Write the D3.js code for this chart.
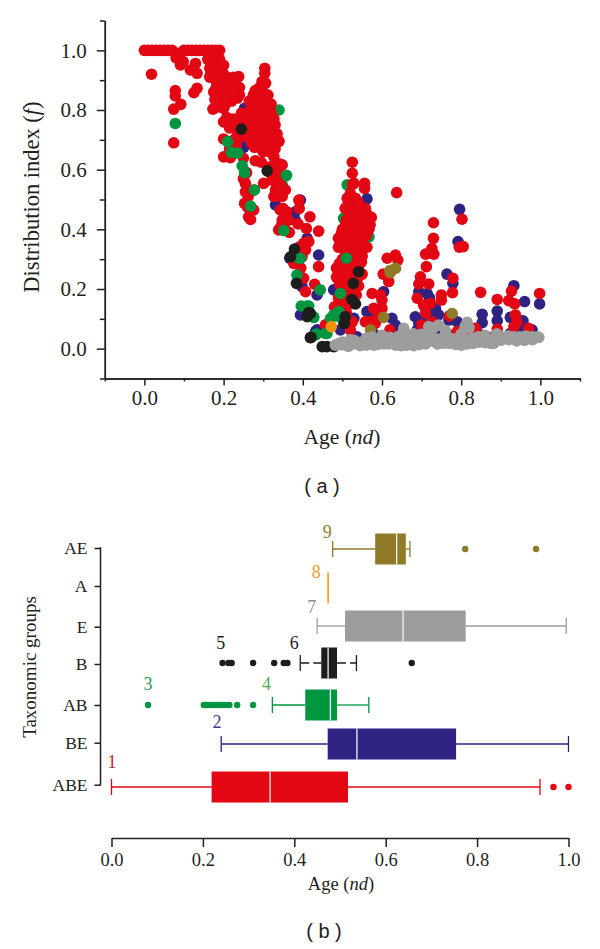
<!DOCTYPE html>
<html><head><meta charset="utf-8">
<script src="https://cdn.jsdelivr.net/npm/d3@7/dist/d3.min.js"></script>
<style>html,body{margin:0;padding:0;background:#fff}svg{display:block}text{font-family:"Liberation Serif",serif;fill:#231f20}</style>
</head><body><svg id="c" width="600" height="949"></svg>
<script>
// ---------- panel (a): [age, f] points per taxonomic group ----------
const pointsBlue = [[.796,.467],[.792,.359],[.44,.314],[.562,.502],[.545,.478],[.764,.25],[.779,.219],[.933,.211],[.96,.158],[.998,.15],[.853,.115],[.853,.087],[.891,.126],[.891,.094],[.924,.105],[.956,.093],[.949,.068],[.979,.063],[.604,.191],[.562,.124],[.575,.113],[.625,.102],[.634,.079],[.693,.191],[.714,.185],[.684,.107],[.709,.107],[.693,.085],[.735,.135],[.743,.113],[.769,.096],[.79,.09],[.735,.059],[.689,.063],[.764,.051],[.84,.057],[.524,.163],[.529,.102],[.503,.09],[.478,.197],[.436,.18],[.625,.057],[.579,.05],[.697,.042],[.655,.051],[.924,.051],[.537,.04],[.495,.063],[.436,.063],[.253,.806],[.251,.675],[.263,.694],[.331,.482],[.381,.459],[.394,.498],[.411,.37],[.367,.303],[.394,.113],[.432,.057],[.398,.208],[.381,.431],[.72,.17],[.73,.12],[.7,.09],[.67,.04],[.865,.04],[.89,.05],[.95,.045],[.98,.05]];
const pointsRed = [[0,1],[.01,1],[.02,1],[.03,1],[.04,1],[.05,1],[.06,1],[.07,1],[.085,.99],[.1,1],[.11,1],[.12,1],[.13,1],[.14,1],[.15,1],[.16,1],[.17,1],[.18,1],[.19,1],
[.018,.92],[.078,.865],[.078,.847],[.092,.819],[.074,.803],[.074,.69],[.091,.951],[.098,.962],[.116,.934],[.129,.956],[.133,.923],[.133,.873],[.125,.858],[.173,.803],[.08,.975],
[.16,.97],[.17,.96],[.18,.98],[.19,.97],[.165,.94],[.175,.93],[.185,.95],[.195,.94],[.2,.92],[.165,.91],[.18,.9],[.19,.91],[.205,.89],[.215,.9],[.225,.91],[.238,.912],[.18,.87],[.19,.87],[.2,.86],[.21,.87],[.22,.87],[.23,.88],[.24,.875],[.19,.84],[.2,.83],[.21,.84],[.22,.83],[.235,.84],[.24,.85],[.185,.81],[.2,.805],[.195,.82],[.175,.86],
[.172,.985],[.178,.945],[.187,.925],[.197,.895],[.208,.91],[.183,.885],[.196,.875],[.212,.85],[.226,.855],[.205,.82],[.178,.835],[.228,.895],[.2,.95],[.168,.925],
[.304,.94],[.304,.923],[.297,.895],[.289,.873],[.28,.865],[.306,.89],[.3,.86],[.285,.85],
[.265,.83],[.28,.83],[.295,.83],[.31,.83],[.32,.82],[.245,.79],[.26,.79],[.275,.79],[.29,.79],[.305,.79],[.32,.79],[.2,.76],[.215,.76],[.23,.76],[.245,.76],[.26,.76],[.275,.76],[.29,.76],[.305,.76],[.32,.76],[.33,.75],[.25,.73],[.265,.73],[.28,.73],[.295,.73],[.31,.73],[.325,.73],[.335,.72],[.27,.69],[.285,.69],[.3,.69],[.315,.69],[.33,.69],[.34,.695],[.3,.66],[.315,.66],[.33,.67],[.215,.74],[.225,.77],[.235,.72],
[.272,.81],[.288,.81],[.302,.81],[.316,.81],[.252,.775],[.268,.775],[.283,.775],[.298,.775],[.313,.775],[.327,.77],[.208,.775],[.238,.745],[.258,.745],[.272,.745],[.288,.745],[.302,.745],[.318,.745],[.258,.71],[.275,.71],[.29,.71],[.305,.71],[.32,.71],[.335,.705],[.278,.675],[.292,.675],[.308,.675],[.322,.675],[.298,.845],[.312,.85],[.275,.85],
[.2,.703],[.226,.7],[.242,.71],[.2,.643],[.217,.64],[.25,.638],[.255,.554],[.255,.526],[.276,.532],[.253,.487],[.276,.465],[.263,.442],[.268,.433],[.28,.63],[.295,.625],[.301,.554],[.327,.644],[.348,.616],[.318,.61],[.335,.588],[.322,.565],[.34,.62],[.33,.61],[.343,.554],[.331,.532],[.356,.532],[.327,.51],[.348,.51],[.39,.498],[.391,.47],[.343,.465],[.36,.459],[.348,.431],[.364,.431],[.339,.398],[.366,.39],[.352,.409],[.355,.44],[.345,.41],[.388,.418],[.418,.442],[.409,.403],[.44,.394],[.415,.359],[.402,.353],[.407,.331],[.398,.308],[.44,.275],[.377,.286],[.402,.236],[.43,.216],[.407,.191],[.39,.34],[.395,.27],[.332,.56],[.338,.535],[.318,.59],[.345,.58],[.335,.51],[.35,.47],[.258,.59],[.25,.57],[.262,.51],[.26,.475],[.215,.67],[.232,.68],
[.525,.625],[.525,.588],[.529,.554],[.556,.554],[.556,.537],[.512,.504],[.533,.504],[.52,.52],[.525,.55],
[.507,.47],[.525,.47],[.541,.47],[.558,.47],[.51,.43],[.525,.43],[.54,.43],[.555,.43],[.566,.43],[.5,.4],[.515,.4],[.53,.4],[.545,.4],[.56,.4],[.567,.4],[.49,.37],[.503,.37],[.52,.37],[.535,.37],[.55,.37],[.56,.38],[.562,.34],[.505,.33],[.52,.33],[.535,.33],[.55,.33],[.5,.3],[.515,.3],[.53,.3],[.537,.3],[.55,.31],[.485,.27],[.5,.27],[.515,.27],[.53,.27],[.54,.27],[.485,.24],[.5,.24],[.515,.24],[.53,.24],[.54,.24],[.495,.21],[.51,.21],[.525,.21],[.541,.21],[.5,.18],[.52,.18],[.535,.18],[.5,.15],[.52,.15],[.48,.14],[.49,.17],[.52,.063],[.457,.08],[.525,.09],[.51,.12],
[.517,.45],[.533,.45],[.548,.45],[.562,.45],[.508,.415],[.523,.415],[.538,.415],[.553,.415],[.497,.385],[.512,.385],[.528,.385],[.543,.385],[.558,.395],[.497,.35],[.512,.35],[.528,.35],[.543,.35],[.508,.315],[.523,.315],[.538,.315],[.492,.285],[.508,.285],[.522,.285],[.538,.285],[.492,.255],[.508,.255],[.522,.255],[.492,.225],[.505,.225],[.52,.225],[.533,.225],[.51,.195],[.528,.195],[.51,.165],[.515,.49],[.54,.49],[.57,.415],[.573,.44],[.49,.34],[.548,.29],[.55,.25],
[.637,.523],[.634,.314],[.613,.303],[.64,.297],[.603,.25],[.617,.225],[.575,.185],[.596,.18],[.6,.163],[.579,.135],[.6,.135],[.558,.09],[.583,.085],[.62,.063],[.59,.11],[.57,.09],
[.73,.422],[.73,.37],[.726,.336],[.71,.317],[.731,.317],[.72,.32],[.712,.275],[.697,.241],[.693,.217],[.718,.217],[.75,.18],[.75,.163],[.689,.169],[.705,.146],[.722,.152],[.71,.12],[.726,.09],[.802,.434],[.805,.342],[.795,.34],[.779,.236],[.778,.188],[.849,.189],[.891,.165],[.998,.185],[.927,.193],[.92,.161],[.935,.15],[.937,.113],[.941,.09],[.891,.066],[.79,.057],[.815,.066],[.836,.068],[.933,.074],[.97,.068],[.77,.11],[.7,.08]];
const pointsGreenBack = [[.512,.549],[.503,.437],[.567,.375],[.507,.392],[.348,.55],[.491,.241],[.27,.79],[.34,.8]];
const pointsGreen = [[.078,.755],[.21,.694],[.22,.658],[.236,.655],[.247,.613],[.253,.59],[.278,.532],[.359,.581],[.268,.478],[.352,.396],[.391,.303],[.385,.247],[.444,.197],[.396,.143],[.415,.143],[.428,.105],[.432,.046],[.461,.051],[.51,.303],[.495,.185],[.478,.113],[.491,.124],[.47,.102],[.485,.11],[.457,.051],[.434,.049],[.41,.143],[.426,.107],[.394,.303],[.5,.1]];
const pointsBlack = [[.245,.736],[.31,.596],[.379,.334],[.369,.308],[.384,.219],[.419,.118],[.411,.107],[.419,.037],[.449,.007],[.541,.258],[.533,.15],[.415,.121],[.421,.038],[.461,.007],[.478,.007],[.495,.018],[.528,.219],[.507,.107],[.505,.085],[.524,.165]];
const pointsOrange = [[.472,.074]];
const pointsOlive = [[.634,.269],[.621,.255],[.604,.105],[.571,.063],[.651,.035],[.777,.118],[.62,.262]];
const pointsGray = [[.482,.012],[.49,.016],[.498,.013],[.505,.014],[.512,.016],[.52,.018],[.528,.016],[.535,.02],[.543,.018],[.55,.022],[.558,.026],[.565,.02],[.572,.028],[.58,.024],[.588,.032],[.595,.022],[.603,.036],[.61,.028],[.617,.016],[.625,.03],[.632,.022],[.64,.014],[.648,.01],[.655,.018],[.655,.068],[.662,.012],[.67,.022],[.678,.028],[.685,.018],[.692,.03],[.7,.024],[.708,.034],[.715,.026],[.718,.074],[.723,.046],[.73,.024],[.738,.032],[.743,.079],[.745,.024],[.753,.036],[.76,.028],[.768,.038],[.775,.024],[.783,.032],[.79,.026],[.798,.04],[.805,.02],[.812,.03],[.815,.088],[.82,.024],[.828,.036],[.835,.028],[.843,.04],[.85,.032],[.858,.036],[.865,.028],[.873,.03],[.882,.018],[.888,.032],[.89,.05],[.895,.036],[.903,.04],[.91,.036],[.918,.042],[.925,.038],[.933,.04],[.94,.034],[.948,.04],[.955,.036],[.963,.042],[.97,.036],[.978,.04],[.985,.036],[.992,.04],[.996,.038],[.6,.045],[.68,.05],[.72,.05],[.8,.05],[.64,.04],[.56,.035],[.52,.03],[.75,.02],[.86,.045],[.58,.012],
[.5,.022],[.515,.008],[.53,.028],[.545,.01],[.56,.012],[.575,.04],[.59,.014],[.605,.016],[.62,.038],[.635,.012],[.65,.03],[.665,.028],[.68,.01],[.695,.014],[.71,.016],[.725,.036],[.74,.016],[.755,.018],[.77,.018],[.785,.014],[.8,.012],[.815,.016],[.83,.018],[.845,.022],[.86,.02],[.875,.018],[.9,.028],[.92,.03],[.94,.026],[.96,.028],[.98,.03],[.7,.048],[.76,.06],[.73,.07],[.82,.07],[.81,.075],[.72,.062],[.66,.05]];

// ---------- panel (b): box statistics per taxonomic group ----------
const groups = ["AE","A","E","B","AB","BE","ABE"];
const whiskerLow  = [.484,.474,.450,.413,.352,.24,0];
const quartile1   = [.577,.474,.511,.459,.424,.473,.219];
const median      = [.624,.474,.638,.474,.479,.537,.347];
const quartile3   = [.644,.474,.775,.4935,.4935,.754,.5175];
const whiskerHigh = [.653,.474,.995,.536,.563,1,.9376];
const outliers = [[.774,.929],[],[],[.243,.256,.263,.31,.356,.377,.385,.657],[.08,.202,.209,.216,.223,.23,.237,.244,.251,.258,.275,.31],[],[.967,1]];
const groupColors = ["#8f7a27","#f39200","#9d9d9c","#1d1d1b","#009640","#2e2382","#e30613"];
const numberLabels = ["1","2","3","4","5","6","7","8","9"];
const numberAges = [.001,.231,.08,.339,.239,.40,.438,.448,.472];
const numberRows = ["ABE","BE","AB","AB","B","B","E","A","AE"];
const numberLift = [19,16,15,15,14,14,13,10,11];
const numberColors = ["#c8202f","#3f3a8f","#1f9a50","#55a84f","#1d1d1b","#1d1d1b","#8c8c8c","#f0982a","#8f7a27"];

const svg = d3.select("#c");
const ink = "#231f20";
const serif = "Liberation Serif";

// panel (a)
const xA = d3.scaleLinear().domain([-.1,1.1]).range([104.8,580]);
const yA = d3.scaleLinear().domain([-.1,1.1]).range([378.5,20.5]);
function styleAxis(g,size){
  g.attr("font-family",serif).attr("font-size",size);
  g.selectAll("path,line").attr("stroke",ink).attr("stroke-width",1.5);
  g.selectAll("text").attr("fill",ink);
}
const majors=[0,.2,.4,.6,.8,1], minors=[-.1,.1,.3,.5,.7,.9,1.1];
const layers=[[pointsBlue,"#2e2382"],[pointsGreenBack,"#009640"],[pointsRed,"#e30613"],[pointsGreen,"#009640"],[pointsBlack,"#1d1d1b"],[pointsOrange,"#f39200"],[pointsOlive,"#8f7a27"],[pointsGray,"#9d9d9c"]];
layers.forEach(([pts,col])=>{
  svg.append("g").selectAll("circle").data(pts).join("circle")
    .attr("cx",d=>xA(d[0])).attr("cy",d=>yA(d[1])).attr("r",5.8).attr("fill",col);
});
const gx=svg.append("g").attr("transform","translate(0,378.5)");
gx.call(d3.axisBottom(xA).tickValues(majors).tickFormat(d3.format(".1f")).tickSize(7).tickSizeOuter(0).tickPadding(5)).call(styleAxis,21);
svg.append("g").attr("transform","translate(0,378.5)").call(d3.axisBottom(xA).tickValues(minors).tickFormat("").tickSize(3).tickSizeOuter(0)).call(styleAxis,21);
const gy=svg.append("g").attr("transform","translate(104.8,0)");
gy.call(d3.axisLeft(yA).tickValues(majors).tickFormat(d3.format(".1f")).tickSize(8).tickSizeOuter(0).tickPadding(10)).call(styleAxis,21);
svg.append("g").attr("transform","translate(104.8,0)").call(d3.axisLeft(yA).tickValues(minors).tickFormat("").tickSize(5).tickSizeOuter(0)).call(styleAxis,21);

function label(x,y,size,parts,rot){
  const t=svg.append("text").attr("text-anchor","middle").attr("font-size",size)
    .attr("transform",`translate(${x},${y})`+(rot?` rotate(${rot})`:""));
  parts.forEach(([s,it])=>t.append("tspan").text(s).attr("font-style",it?"italic":"normal"));
}
label(39,197,22.5,[["Distribution index ("],["f",1],[")"]],-90);
label(342,444,21.5,[["Age ("],["nd",1],[")"]]);
svg.append("text").attr("x",322).attr("y",493).attr("text-anchor","middle").attr("font-size",20).style("font-family","Liberation Sans").text("( a )");

// panel (b)
const xB = d3.scaleLinear().domain([0,1]).range([111.5,568.5]);
const rowY = d3.scaleOrdinal().domain(groups).range([549,588,626,663,705,744,787]);
const tickY = d3.scaleOrdinal().domain(groups).range([548,586,626.7,664,705,742.7,784.7]);
const boxH=31, capH=16;

const gxb=svg.append("g").attr("transform","translate(0,838)");
gxb.call(d3.axisBottom(xB).tickValues(majors).tickFormat(d3.format(".1f")).tickSize(9).tickSizeOuter(0).tickPadding(6)).call(styleAxis,18.5);
const gyb=svg.append("g").attr("transform","translate(100.5,0)");
gyb.call(d3.axisLeft(tickY).tickSize(6).tickSizeOuter(0).tickPadding(7)).call(styleAxis,17.5);
gyb.select("path").attr("d","M0,547.3V785.4");

groups.forEach((name,i)=>{
  const g=svg.append("g"), y=rowY(name), c=groupColors[i];
  const dash = name==="B" ? "9,4" : null;
  if(name!=="A"){
    g.append("line").attr("x1",xB(whiskerLow[i])).attr("x2",xB(quartile1[i])).attr("y1",y).attr("y2",y).attr("stroke",c).attr("stroke-width",1.3).attr("stroke-dasharray",dash);
    g.append("line").attr("x1",xB(quartile3[i])).attr("x2",xB(whiskerHigh[i])).attr("y1",y).attr("y2",y).attr("stroke",c).attr("stroke-width",1.3).attr("stroke-dasharray",dash);
    [whiskerLow[i],whiskerHigh[i]].forEach(v=>{
      g.append("line").attr("x1",xB(v)).attr("x2",xB(v)).attr("y1",y-capH/2).attr("y2",y+capH/2).attr("stroke",c).attr("stroke-width",1.3);
    });
    g.append("rect").attr("x",xB(quartile1[i])).attr("y",y-boxH/2).attr("width",xB(quartile3[i])-xB(quartile1[i])).attr("height",boxH).attr("fill",c);
    g.append("line").attr("x1",xB(median[i])).attr("x2",xB(median[i])).attr("y1",y-boxH/2).attr("y2",y+boxH/2).attr("stroke","#f2f2f2").attr("stroke-width",1.3);
  } else {
    g.append("line").attr("x1",xB(median[i])).attr("x2",xB(median[i])).attr("y1",y-boxH/2).attr("y2",y+boxH/2).attr("stroke",c).attr("stroke-width",1.5);
  }
  g.selectAll("circle").data(outliers[i]).join("circle").attr("cx",d=>xB(d)).attr("cy",y).attr("r",3.2).attr("fill",c);
});
numberLabels.forEach((s,i)=>{
  svg.append("text").text(s).attr("x",xB(numberAges[i])).attr("y",rowY(numberRows[i])-numberLift[i]).attr("text-anchor","middle").attr("font-size",18).style("fill",numberColors[i]);
});
label(36,667,19,[["Taxonomic groups"]],-90);
label(341,890,18.5,[["Age ("],["nd",1],[")"]]);
svg.append("text").attr("x",324).attr("y",938).attr("text-anchor","middle").attr("font-size",20).style("font-family","Liberation Sans").text("( b )");
</script></body></html>
